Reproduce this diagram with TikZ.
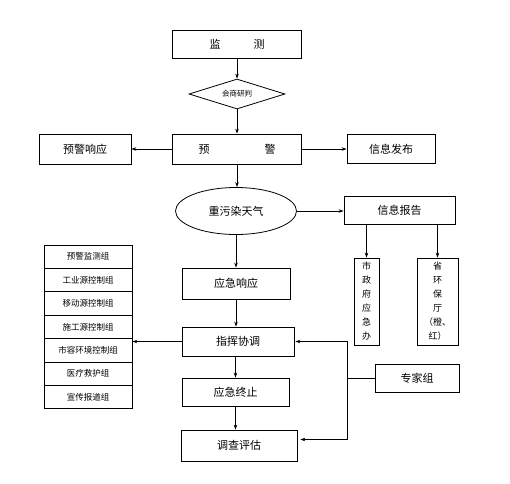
\documentclass[tikz,border=0pt]{standalone}
\usepackage{fontspec}
\setmainfont{Noto Sans CJK SC}
\usetikzlibrary{shapes.geometric,arrows.meta}
\tikzset{
  >={Stealth[length=5pt,width=3.5pt]},
  box/.style={draw,thick,inner sep=0pt,font=\fontsize{11}{13}\selectfont},
  grp/.style={draw,thick,minimum width=88,minimum height=23.4,inner sep=0pt,font=\fontsize{8.5}{10}\selectfont},
  vbox/.style={draw,thick,inner sep=0pt,align=center,font=\fontsize{9}{14}\selectfont}
}
\begin{document}
\begin{tikzpicture}[x=1pt,y=-1pt,line width=0.6pt]
        \useasboundingbox (0,0) rectangle (510,483);

        % Main chain
        \node[box,minimum width=129,minimum height=28] (jc) at (237,44) {监\hspace{3em}测};
        \node[draw,thick,diamond,aspect=3.2,minimum width=96,minimum height=30,inner sep=0pt,font=\fontsize{7.5}{9}\selectfont] (hs) at (237,94) {会商研判};
        \node[box,minimum width=129,minimum height=30] (yj) at (237,149) {预\hspace{5em}警};
        \node[draw,thick,ellipse,minimum width=121,minimum height=47,inner sep=0pt,font=\fontsize{11}{13}\selectfont] (wr) at (236,211) {重污染天气};
        \node[box,minimum width=108,minimum height=31] (xy) at (236,283.5) {应急响应};
        \node[box,minimum width=112,minimum height=29] (zh) at (238,341.5) {指挥协调};
        \node[box,minimum width=107,minimum height=28] (zz) at (235.5,392) {应急终止};
        \node[box,minimum width=116,minimum height=31] (dc) at (239,445.5) {调查评估};

        % Side boxes
        \node[box,minimum width=92,minimum height=30] (yjxy) at (85,149) {预警响应};
        \node[box,minimum width=88,minimum height=29] (fb) at (391,149) {信息发布};
        \node[box,minimum width=111,minimum height=28] (bg) at (399.5,210) {信息报告};
        \node[vbox,minimum width=25,minimum height=87] (szf) at (366.5,301.5) {市\\政\\府\\应\\急\\办};
        \node[vbox,minimum width=41,minimum height=87] (sht) at (437.5,301.5) {省\\环\\保\\厅\\（橙、\\红）};
        \node[box,minimum width=84,minimum height=28] (zj) at (417,378) {专家组};

        % Working groups
        \foreach \name [count=\i] in {预警监测组,工业源控制组,移动源控制组,施工源控制组,市容环境控制组,医疗救护组,宣传报道组}
          \node[grp] (g\i) at (88,{245+23.4*(\i-0.5)}) {\name};

        % Arrows down the chain
        \draw[->] (jc.south) -- (hs.north);
        \draw[->] (hs.south) -- (yj.north);
        \draw[->] (yj.south) -- (yj.south |- wr.north);
        \draw[->] (wr.south) -- (wr.south |- xy.north);
        \draw[->] (xy.south) -- (xy.south |- zh.north);
        \draw[->] (zh.south -| zz.north) -- (zz.north);
        \draw[->] (zz.south) -- (zz.south |- dc.north);

        % Side arrows
        \draw[->] (yj.west) -- (yjxy.east);
        \draw[->] (yj.east) -- (fb.west);
        \draw[->] (wr.east) -- (wr.east -| bg.west);
        \draw[->] (bg.south -| szf.north) -- (szf.north);
        \draw[->] (bg.south -| sht.north) -- (sht.north);
        \draw[->] (zh.west) -- (zh.west -| g5.east);

        % Expert group
        \coordinate (jt) at (347,378);
        \draw (zj.west) -- (jt);
        \draw[->] (jt) |- ([xshift=1pt]zh.east);
        \draw[->] (jt) |- ([xshift=3pt,yshift=6pt]dc.east);
    \end{tikzpicture}
\end{document}
